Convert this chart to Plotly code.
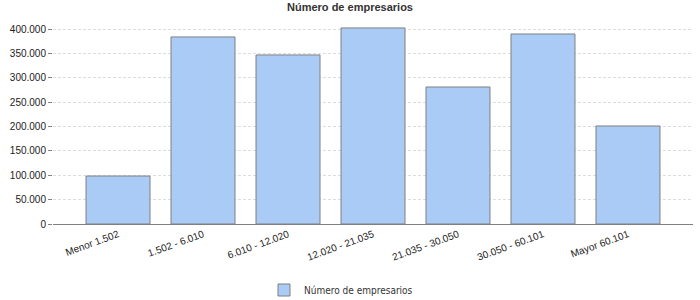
import plotly.graph_objects as go

categories = ["Menor 1.502", "1.502 - 6.010", "6.010 - 12.020", "12.020 - 21.035",
              "21.035 - 30.050", "30.050 - 60.101", "Mayor 60.101"]
values = [98600, 384300, 347300, 402800, 281500, 390400, 201400]
series_name = "Número de empresarios"
y_ticks = [0, 50000, 100000, 150000, 200000, 250000, 300000, 350000, 400000]

fig = go.Figure()
fig.add_trace(go.Bar(
    x=categories, y=values, name=series_name,
    marker=dict(color="#A9CBF5", line=dict(color="#808080", width=1)),
    showlegend=True,
))

fig.update_layout(
    width=700, height=300,
    margin=dict(l=53, r=7, t=22, b=76, autoexpand=False),
    paper_bgcolor="white", plot_bgcolor="white",
    separators=",.",
    bargap=0.247,
    title=dict(text="<b>Número de empresarios</b>", x=0.5, xanchor="center",
               y=1 - 7.5 / 300, yanchor="middle", yref="container",
               font=dict(family="Liberation Sans, Arial", size=11, color="#333333")),
    font=dict(family="Liberation Sans, Arial", size=10, color="#222222"),
    legend=dict(orientation="h", x=0.45, xanchor="center",
                y=1 - 290 / 300, yanchor="middle", yref="container",
                font=dict(family="DejaVu Sans Condensed, DejaVu Sans", size=10, color="#333333"),
                itemwidth=30),
    xaxis=dict(range=[-0.765, 6.765], showline=True, linecolor="#808080", linewidth=1,
               ticks="", tickangle=-20, showgrid=False, zeroline=False, automargin=False,
               tickfont=dict(family="Liberation Sans, Arial", size=10, color="#222222")),
    yaxis=dict(range=[0, 415000], tickvals=y_ticks, tickformat=",d", automargin=False,
               showgrid=True, gridcolor="#DDDDDD", griddash="3px,2px", gridwidth=1,
               zeroline=False, showline=False, ticks="outside", ticklen=4,
               tickcolor="#808080",
               tickfont=dict(family="Liberation Sans, Arial", size=10, color="#222222")),
)

fig.write_html("out.html")
